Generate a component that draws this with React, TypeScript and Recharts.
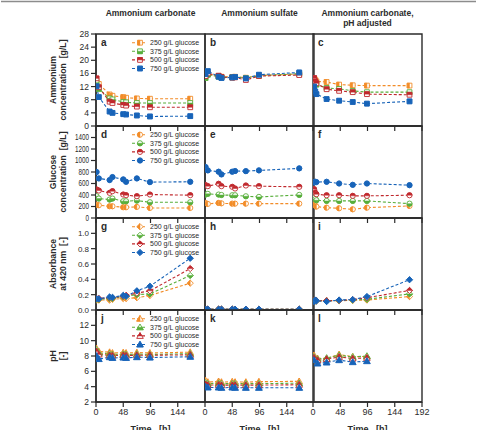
import { LineChart, Line, XAxis, YAxis, ReferenceArea } from "recharts";

const FONT = "'Liberation Sans', Arial, Helvetica, sans-serif";
const INK = "#2b2b2b";

// sampling times in hours
const TIME_AB = [1, 5, 24, 29, 48, 53, 72, 95, 166];
const TIME_C = [2, 4, 6, 24, 46, 70, 95, 170];
const TIME_L = [2, 8, 24, 46, 70, 95];

const GLUCOSE_LEVELS = ["250", "375", "500", "750"];
const SERIES_COLORS = ["#F28C28", "#57AE3A", "#C0282D", "#1763B8"];
const MARKER_FILL = ["left", "bottom", "top", "full"];

const COLUMN_TITLES = [["Ammonium carbonate"], ["Ammonium sulfate"], ["Ammonium carbonate,", "pH adjusted"]];
const ROW_TITLES = [
  ["Ammonium", "concentration  [g/L]"],
  ["Glucose", "concentration  [g/L]"],
  ["Absorbance", "at 420 nm  [-]"],
  ["pH", "[-]"],
];
const PANEL_LETTERS = [
  ["a", "b", "c"],
  ["d", "e", "f"],
  ["g", "h", "i"],
  ["j", "k", "l"],
];
const ROW_SHAPES = ["square", "circle", "diamond", "triangle"];

const Y_DOMAINS = [
  [0, 28],
  [0, 1600],
  [0, 1.2],
  [2, 14],
];
const Y_TICKS = [
  [0, 4, 8, 12, 16, 20, 24, 28],
  [0, 200, 400, 600, 800, 1000, 1200, 1400],
  [0, 0.2, 0.4, 0.6, 0.8, 1.0],
  [2, 4, 6, 8, 10, 12],
];
const X_TICKS = [0, 48, 96, 144];
const X_TICKS_LAST = [0, 48, 96, 144, 192];

// ammonium [g/L]
const AMMONIUM_A = [
  [13.8, 12.8, 9.6, 9.2, 8.8, 8.6, 8.4, 8.3, 8.3],
  [13.2, 11.3, 8.4, 8.1, 7.3, 7.2, 7.0, 7.0, 7.0],
  [14.5, 11.8, 7.4, 7.0, 6.4, 6.2, 5.9, 5.7, 5.7],
  [12.1, 8.8, 4.4, 4.0, 3.6, 3.5, 3.2, 2.9, 3.0],
];
const AMMONIUM_B = [
  [15.5, 15.8, 15.2, 15.0, 14.9, 15.0, 14.7, 15.4, 15.8],
  [14.6, 15.6, 15.0, 14.8, 14.8, 14.9, 14.6, 15.3, 15.9],
  [15.2, 16.0, 15.3, 14.9, 14.7, 14.8, 14.0, 15.2, 15.5],
  [15.8, 16.7, 15.0, 14.6, 14.8, 14.9, 14.5, 15.6, 16.3],
];
const AMMONIUM_C = [
  [14.4, 14.1, 13.6, 13.4, 12.6, 12.4, 12.3, 12.3],
  [14.0, 13.1, 12.6, 11.6, 11.3, 10.7, 10.3, 10.3],
  [14.6, 13.6, 13.0, 11.2, 10.7, 10.3, 9.7, 9.5],
  [12.0, 10.5, 9.7, 8.2, 7.7, 7.3, 6.8, 7.5],
];

// glucose [g/L]
const GLUCOSE_D = [
  [233, 222, 204, 204, 187, 187, 193, 175, 175],
  [379, 338, 321, 338, 292, 292, 303, 274, 274],
  [496, 478, 437, 467, 408, 397, 379, 408, 397],
  [800, 688, 660, 712, 671, 630, 688, 624, 630],
];
const GLUCOSE_E = [
  [262, 245, 262, 255, 250, 250, 250, 250, 250],
  [408, 420, 408, 400, 396, 396, 378, 367, 402],
  [572, 554, 595, 554, 542, 513, 565, 553, 542],
  [887, 828, 805, 758, 805, 817, 815, 828, 863],
];
const GLUCOSE_F = [
  [239, 220, 198, 180, 169, 151, 180, 210],
  [355, 330, 309, 297, 297, 297, 297, 250],
  [501, 440, 414, 396, 396, 385, 385, 396],
  [618, 630, 625, 630, 600, 577, 600, 571],
];

// absorbance at 420 nm
const ABSORBANCE_G = [
  [0.13, 0.13, 0.13, 0.14, 0.15, 0.15, 0.16, 0.19, 0.35],
  [0.14, 0.14, 0.15, 0.15, 0.175, 0.18, 0.2, 0.21, 0.45],
  [0.145, 0.15, 0.16, 0.16, 0.18, 0.19, 0.22, 0.25, 0.54],
  [0.145, 0.145, 0.17, 0.165, 0.19, 0.18, 0.25, 0.31, 0.675],
];
const ABSORBANCE_H = [
  [0.01, 0.01, 0.01, 0.01, 0.01, 0.01, 0.01, 0.01, 0.01],
  [0.01, 0.01, 0.01, 0.01, 0.01, 0.01, 0.01, 0.01, 0.01],
  [0.01, 0.01, 0.01, 0.01, 0.01, 0.01, 0.01, 0.01, 0.01],
  [0.01, 0.01, 0.01, 0.01, 0.01, 0.01, 0.01, 0.01, 0.01],
];
const ABSORBANCE_I = [
  [0.12, 0.12, 0.12, 0.12, 0.12, 0.125, 0.13, 0.175],
  [0.12, 0.12, 0.12, 0.12, 0.125, 0.13, 0.14, 0.21],
  [0.12, 0.12, 0.12, 0.12, 0.125, 0.135, 0.16, 0.255],
  [0.11, 0.13, 0.12, 0.11, 0.13, 0.135, 0.175, 0.395],
];

// pH
const PH_J = [
  [8.97, 8.6, 8.5, 8.4, 8.45, 8.4, 8.45, 8.4, 8.5],
  [8.8, 8.4, 8.3, 8.2, 8.25, 8.2, 8.25, 8.2, 8.3],
  [8.6, 8.2, 8.1, 8.05, 8.1, 8.05, 8.1, 8.1, 8.15],
  [8.0, 7.6, 7.85, 7.75, 7.8, 7.75, 7.85, 7.8, 7.9],
];
const PH_K = [
  [4.8, 4.6, 4.7, 4.6, 4.65, 4.6, 4.6, 4.65, 4.7],
  [4.5, 4.4, 4.45, 4.4, 4.4, 4.4, 4.4, 4.4, 4.45],
  [4.3, 4.2, 4.25, 4.2, 4.2, 4.2, 4.2, 4.2, 4.25],
  [4.0, 3.9, 3.9, 3.85, 3.9, 3.85, 3.85, 3.85, 3.85],
];
const PH_L = [
  [8.1, 7.7, 7.67, 8.2, 7.9, 7.95],
  [7.9, 7.6, 7.75, 8.1, 7.88, 8.0],
  [7.76, 7.46, 7.6, 7.88, 7.67, 7.76],
  [7.46, 7.03, 7.16, 7.46, 7.2, 7.33],
];

const PANEL_VALUES = [
  [AMMONIUM_A, AMMONIUM_B, AMMONIUM_C],
  [GLUCOSE_D, GLUCOSE_E, GLUCOSE_F],
  [ABSORBANCE_G, ABSORBANCE_H, ABSORBANCE_I],
  [PH_J, PH_K, PH_L],
];

// panel grid
const COL_LEFT = [96, 205, 313];
const ROW_TOP = [34, 126, 218, 310];
const PLOT_W = 109;
const PLOT_H = 92;
const PAD_T = 6;
const PAD_R = 14;
const X_AXIS_H = 20;
const Y_AXIS_W = 30;

function panelTimes(row: number, col: number) {
  if (col < 2) return TIME_AB;
  return row === 3 ? TIME_L : TIME_C;
}

function buildTable(times: number[], values: number[][]) {
  return times.map((t, i) => {
    const rec: Record<string, number> = { t };
    GLUCOSE_LEVELS.forEach((g, k) => (rec[`g${g}`] = values[k][i]));
    return rec;
  });
}

function shapePath(shape: string, x: number, y: number, part: string) {
  if (shape === "square") {
    const s = 2.4;
    if (part === "left") return `M${x - s},${y - s}H${x}V${y + s}H${x - s}Z`;
    if (part === "top") return `M${x - s},${y - s}H${x + s}V${y}H${x - s}Z`;
    if (part === "bottom") return `M${x - s},${y}H${x + s}V${y + s}H${x - s}Z`;
    return `M${x - s},${y - s}H${x + s}V${y + s}H${x - s}Z`;
  }
  if (shape === "circle") {
    const r = 2.6;
    if (part === "left") return `M${x},${y - r}A${r},${r} 0 0 0 ${x},${y + r}Z`;
    if (part === "top") return `M${x - r},${y}A${r},${r} 0 0 1 ${x + r},${y}Z`;
    if (part === "bottom") return `M${x - r},${y}A${r},${r} 0 0 0 ${x + r},${y}Z`;
    return `M${x - r},${y}A${r},${r} 0 1 0 ${x + r},${y}A${r},${r} 0 1 0 ${x - r},${y}Z`;
  }
  if (shape === "diamond") {
    const h = 3.1;
    if (part === "left") return `M${x},${y - h}L${x},${y + h}L${x - h},${y}Z`;
    if (part === "top") return `M${x - h},${y}L${x},${y - h}L${x + h},${y}Z`;
    if (part === "bottom") return `M${x - h},${y}L${x},${y + h}L${x + h},${y}Z`;
    return `M${x},${y - h}L${x + h},${y}L${x},${y + h}L${x - h},${y}Z`;
  }
  // triangle
  const h = 3.3;
  const b = h * 0.75;
  const w = h / 1.75;
  if (part === "left") return `M${x},${y - h}L${x},${y + b}L${x - h},${y + b}Z`;
  if (part === "top") return `M${x},${y - h}L${x + w},${y}L${x - w},${y}Z`;
  if (part === "bottom") return `M${x - w},${y}L${x + w},${y}L${x + h},${y + b}L${x - h},${y + b}Z`;
  return `M${x},${y - h}L${x + h},${y + b}L${x - h},${y + b}Z`;
}

function Marker({ cx, cy, shape, color, part }: any) {
  if (cx == null || cy == null || isNaN(cx) || isNaN(cy)) return null;
  return (
    <g>
      <path d={shapePath(shape, cx, cy, "full")} fill="#fff" stroke={color} strokeWidth={0.9} />
      <path d={shapePath(shape, cx, cy, part)} fill={color} stroke={color} strokeWidth={0.5} />
    </g>
  );
}

// glucose axis labels are set in a condensed face
const NarrowTick = ({ x, y, payload }: any) => (
  <text
    x={0}
    y={0}
    dy="0.35em"
    textAnchor="end"
    fontSize={8.5}
    fill={INK}
    fontFamily={FONT}
    transform={`translate(${x},${y}) scale(0.74,1)`}
  >
    {payload.value}
  </text>
);

const yFormat = [
  (v: number) => String(v),
  (v: number) => String(v),
  (v: number) => v.toFixed(1),
  (v: number) => String(v),
];

function Panel({ row, col }: { row: number; col: number }) {
  const first = col === 0;
  const bottom = row === 3;
  const yw = first ? Y_AXIS_W : 0;
  const padL = 4 + yw;
  const width = padL + PLOT_W + PAD_R;
  const height = PAD_T + PLOT_H + X_AXIS_H + 2;
  const data = buildTable(panelTimes(row, col), PANEL_VALUES[row][col]);
  const [y0, y1] = Y_DOMAINS[row];
  const axisStroke = { stroke: INK, strokeWidth: 1.4 };

  return (
    <div style={{ position: "absolute", left: COL_LEFT[col] - padL, top: ROW_TOP[row] - PAD_T }}>
      <LineChart width={width} height={height} data={data} margin={{ top: PAD_T, right: PAD_R, bottom: 2, left: 4 }}>
        <XAxis
          type="number"
          dataKey="t"
          domain={[0, 192]}
          ticks={col === 2 ? X_TICKS_LAST : X_TICKS}
          interval={0}
          allowDataOverflow
          height={X_AXIS_H}
          tickSize={5}
          tickMargin={2}
          axisLine={axisStroke}
          tickLine={{ stroke: INK, strokeWidth: 1.2 }}
          tick={{ fontSize: 9, fill: INK, fontFamily: FONT }}
          tickFormatter={bottom ? (v: number) => String(v) : () => ""}
        />
        {first ? (
          <YAxis
            type="number"
            domain={[y0, y1]}
            ticks={Y_TICKS[row]}
            interval={0}
            allowDataOverflow
            width={yw}
            tickSize={5}
            tickMargin={2}
            axisLine={axisStroke}
            tickLine={{ stroke: INK, strokeWidth: 1.2 }}
            tick={row === 1 ? <NarrowTick /> : { fontSize: row === 2 ? 8 : 8.5, fill: INK, fontFamily: FONT }}
            tickFormatter={yFormat[row]}
          />
        ) : (
          <YAxis type="number" domain={[y0, y1]} allowDataOverflow width={0} tick={false} tickLine={false} axisLine={axisStroke} />
        )}
        <ReferenceArea
          x1={0}
          x2={192}
          y1={y0}
          y2={y1}
          fill="none"
          stroke={INK}
          strokeWidth={1.4}
          label={{
            value: PANEL_LETTERS[row][col],
            position: "insideTopLeft",
            offset: 5,
            fontSize: 10,
            fontWeight: 700,
            fill: INK,
            fontFamily: FONT,
          }}
        />
        {GLUCOSE_LEVELS.map((g, k) => (
          <Line
            key={g}
            type="linear"
            dataKey={`g${g}`}
            stroke={SERIES_COLORS[k]}
            strokeWidth={1.1}
            strokeDasharray="3 2"
            dot={(p: any) => (
              <Marker
                key={`${g}-${p.index}`}
                cx={p.cx}
                cy={p.cy}
                shape={ROW_SHAPES[row]}
                color={SERIES_COLORS[k]}
                part={MARKER_FILL[k]}
              />
            )}
            activeDot={false}
            isAnimationActive={false}
          />
        ))}
      </LineChart>
    </div>
  );
}

function Overlay() {
  const colCenter = COL_LEFT.map((x) => x + PLOT_W / 2);
  return (
    <svg
      width={477}
      height={430}
      style={{ position: "absolute", left: 0, top: 0, pointerEvents: "none" }}
      fontFamily={FONT}
    >
      <line x1={1} y1={1.5} x2={476} y2={1.5} stroke="#8c8c8c" strokeWidth={1.6} />

      {COLUMN_TITLES.map((lines, c) =>
        lines.map((t, i) => (
          <text
            key={`ct${c}${i}`}
            x={colCenter[c]}
            y={15.5 + i * 10}
            textAnchor="middle"
            fontSize={8.5}
            fontWeight={700}
            fill={INK}
          >
            {t}
          </text>
        ))
      )}

      {ROW_TITLES.map((lines, r) => {
        const cy = ROW_TOP[r] + PLOT_H / 2;
        return lines.map((t, i) => {
          const x = 55.5 + i * 10;
          return (
            <text
              key={`rt${r}${i}`}
              x={x}
              y={cy}
              transform={`rotate(-90 ${x} ${cy})`}
              textAnchor="middle"
              fontSize={8.7}
              fontWeight={700}
              fill={INK}
              style={{ whiteSpace: "pre" }}
            >
              {t}
            </text>
          );
        });
      })}

      {ROW_TOP.map((top, r) =>
        GLUCOSE_LEVELS.map((g, k) => {
          const cy = top + 8.7 + k * 8.6;
          return (
            <g key={`lg${r}${k}`}>
              <line x1={132} y1={cy} x2={147} y2={cy} stroke={SERIES_COLORS[k]} strokeWidth={1.1} strokeDasharray="3 2" />
              <Marker cx={140} cy={cy} shape={ROW_SHAPES[r]} color={SERIES_COLORS[k]} part={MARKER_FILL[k]} />
              <text x={150} y={cy} dy="0.35em" fontSize={7} fill={INK}>
                {`${g} g/L glucose`}
              </text>
            </g>
          );
        })
      )}

      {colCenter.map((x, c) => (
        <text
          key={`xt${c}`}
          x={x}
          y={432}
          textAnchor="middle"
          fontSize={9}
          fontWeight={700}
          fill={INK}
          style={{ whiteSpace: "pre" }}
        >
          {"Time   [h]"}
        </text>
      ))}
    </svg>
  );
}

export default function App() {
  return (
    <div
      style={{
        position: "absolute",
        left: 0,
        top: 0,
        width: 477,
        height: 430,
        overflow: "hidden",
        background: "#fff",
        fontFamily: FONT,
      }}
    >
      {ROW_TOP.map((_, r) => COL_LEFT.map((__, c) => <Panel key={`${r}-${c}`} row={r} col={c} />))}
      <Overlay />
    </div>
  );
}
